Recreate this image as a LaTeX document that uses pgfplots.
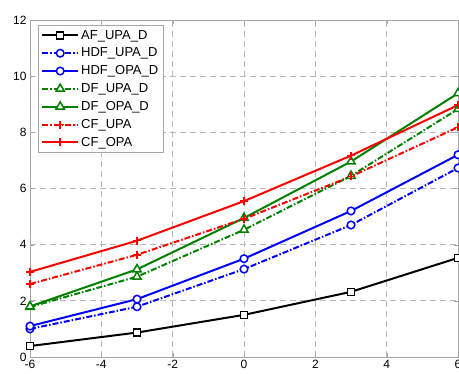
\documentclass[border=0pt]{standalone}
\usepackage{pgfplots}
\pgfplotsset{compat=1.18}
\usepackage{fontspec}
\setmainfont{Liberation Sans}
\definecolor{mgreen}{RGB}{0,128,0}
\begin{document}
\begin{tikzpicture}[x=1pt,y=1pt]
\begin{axis}[
 at={(0,0)}, anchor=south west, scale only axis, width=428pt, height=337pt,
 xmin=-6,xmax=6,ymin=0,ymax=12,
 xtick={-6,-4,...,6}, ytick={0,2,...,12},
 grid=major, major grid style={gray!55, line width=0.8pt, dash pattern=on 6pt off 4pt},
 axis line style={gray!70}, tick style={gray!70},
 tick align=inside,
 ticklabel style={font=\fontsize{12}{13}\selectfont},
 /pgf/number format/assume math mode=true,
 legend cell align=left,
 legend style={at={(rel axis cs:0.0187,0.985)}, anchor=north west, draw=gray!70,
   font=\fontsize{13}{15}\selectfont, row sep=3.3pt, inner sep=3pt},
 legend image code/.code={\draw[mark repeat=2,mark phase=2] plot coordinates {(0pt,0pt)(18pt,0pt)(36pt,0pt)};},
 every axis plot/.append style={line width=2pt, mark options={solid, fill=white, line width=1.5pt}},
]
\addplot[black, mark=square*, mark size=3.5pt] coordinates {(-6,0.39)(-3,0.87)(0,1.5)(3,2.32)(6,3.53)};
\addlegendentry{AF\_UPA\_D}
\addplot[blue, dash pattern=on 6pt off 2pt on 1.5pt off 2pt, mark=*, mark size=3.8pt] coordinates {(-6,1.0)(-3,1.79)(0,3.13)(3,4.7)(6,6.73)};
\addlegendentry{HDF\_UPA\_D}
\addplot[blue, mark=*, mark size=3.8pt] coordinates {(-6,1.1)(-3,2.06)(0,3.5)(3,5.2)(6,7.2)};
\addlegendentry{HDF\_OPA\_D}
\addplot[mgreen, dash pattern=on 6pt off 2pt on 1.5pt off 2pt, mark=triangle*, mark size=4.8pt] coordinates {(-6,1.78)(-3,2.86)(0,4.53)(3,6.45)(6,8.83)};
\addlegendentry{DF\_UPA\_D}
\addplot[mgreen, mark=triangle*, mark size=4.8pt] coordinates {(-6,1.8)(-3,3.12)(0,4.95)(3,6.96)(6,9.39)};
\addlegendentry{DF\_OPA\_D}
\addplot[red, dash pattern=on 6pt off 2pt on 1.5pt off 2pt, mark=+, mark size=4pt] coordinates {(-6,2.6)(-3,3.64)(0,4.92)(3,6.43)(6,8.18)};
\addlegendentry{CF\_UPA}
\addplot[red, mark=+, mark size=4pt] coordinates {(-6,3.03)(-3,4.14)(0,5.55)(3,7.17)(6,8.97)};
\addlegendentry{CF\_OPA}
\end{axis}
\pgfresetboundingbox
\path[use as bounding box] (-30,-17) rectangle (429,357);
\end{tikzpicture}
\end{document}
